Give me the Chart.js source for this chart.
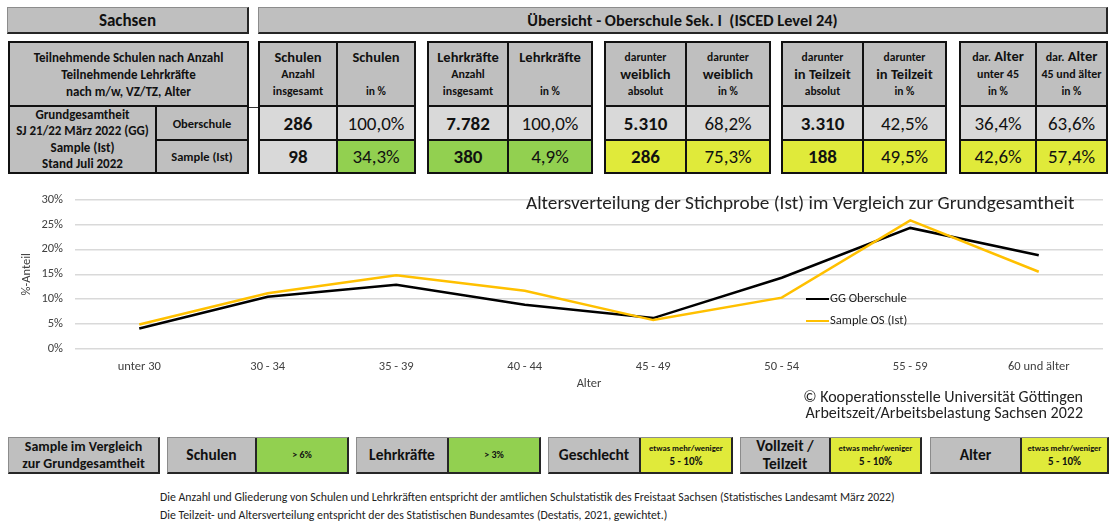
<!DOCTYPE html>
<html lang="de">
<head>
<meta charset="utf-8">
<title>Sachsen - Oberschule Sek. I</title>
<script src="https://cdn.jsdelivr.net/npm/chart.js@4.4.0/dist/chart.umd.min.js"></script>
<style>
  body { margin:0; width:1112px; height:523px; position:relative; overflow:hidden; background:#fff;
         font-family: Carlito, Lato, "Open Sans", sans-serif; color:#111; }
  .abs { position:absolute; box-sizing:border-box; }
  .flat { position:absolute; box-sizing:border-box; background:#bfbfbf; font-weight:bold; text-align:center;
          border-top:1px solid #8c8c8c; border-left:1px solid #8c8c8c;
          border-right:2px solid #262626; border-bottom:2px solid #262626;
          display:flex; align-items:center; justify-content:center; }
  .blk { position:absolute; top:41px; height:133px; box-sizing:border-box; border:2px solid #111;
         display:grid; grid-template-rows:64px 34px 31px; }
  .blk > div { box-sizing:border-box; display:flex; flex-direction:column; align-items:center;
               justify-content:center; text-align:center; overflow:hidden; white-space:nowrap; }
  .h { background:#bfbfbf; font-weight:bold; line-height:17px; }
  .l { background:#d9d9d9; font-size:19px; }
  .gr { background:#92d050; font-size:19px; }
  .ye { background:#e0ea3a; font-size:19px; }
  .b { font-weight:bold; }
  .br { border-right:2px solid #111; }
  .bb { border-bottom:2px solid #111; }
  .s10 { font-size:11.5px; }
  .s11 { font-size:12px; }
  .s12 { font-size:14.5px; }
  .pair { position:absolute; top:437px; height:37px; display:flex; box-sizing:border-box;
          border-top:1px solid #8c8c8c; border-left:1px solid #8c8c8c;
          border-right:2px solid #262626; border-bottom:2px solid #262626; }
  .pl { background:#bfbfbf; border-right:2px solid #262626; font-weight:bold; font-size:15.5px;
        line-height:18px; display:flex; align-items:center; justify-content:center; text-align:center; box-sizing:border-box; }
  .pv { flex:1; display:flex; flex-direction:column; align-items:center; justify-content:center;
        font-weight:bold; font-size:10px; line-height:14px; white-space:nowrap; }
  .note { position:absolute; left:160px; font-size:11.8px; color:#222; white-space:nowrap; line-height:14px; }
  #chartBox { position:absolute; left:0; top:180px; width:1112px; height:220px; }
  .leg { position:absolute; left:806px; font-size:12.6px; color:#222; white-space:nowrap; line-height:14px; }
  .leg span { display:inline-block; width:23px; height:2.5px; vertical-align:middle; margin-right:1px; }
</style>
</head>
<body>

<div class="flat" style="left:7px;top:7px;width:242px;height:27px;font-size:17px">Sachsen</div>
<div class="flat" style="left:258px;top:7px;width:850px;height:27px;font-size:16.4px">Übersicht - Oberschule Sek. I&nbsp; (ISCED Level 24)</div>

<!-- linker Block -->
<div class="blk" style="left:8px;width:241px;grid-template-columns:147px 90px">
  <div class="h bb" style="grid-column:1 / 3;font-size:13px">Teilnehmende Schulen nach Anzahl<br>Teilnehmende Lehrkräfte<br>nach m/w, VZ/TZ, Alter</div>
  <div class="h br" style="grid-row:2 / 4;font-size:13px;line-height:16.5px">Grundgesamtheit<br>SJ 21/22 März 2022 (GG)<br>Sample (Ist)<br>Stand Juli 2022</div>
  <div class="h bb" style="font-size:12.5px">Oberschule</div>
  <div class="h" style="font-size:12.5px">Sample (Ist)</div>
</div>
<div class="abs" style="left:249px;top:107px;width:9px;height:1px;background:#333"></div>

<div class="blk" style="left:258px;width:158px;grid-template-columns:78px 76px">
  <div class="h br bb"><span class="s12">Schulen</span><span class="s11">Anzahl</span><span class="s11">insgesamt</span></div>
  <div class="h bb"><span class="s12">Schulen</span><span class="s11">&nbsp;</span><span class="s10">in %</span></div>
  <div class="l b br bb">286</div><div class="l bb">100,0%</div>
  <div class="l b br">98</div><div class="gr">34,3%</div>
</div>

<div class="blk" style="left:427px;width:166px;grid-template-columns:80px 82px">
  <div class="h br bb"><span class="s12">Lehrkräfte</span><span class="s11">Anzahl</span><span class="s11">insgesamt</span></div>
  <div class="h bb"><span class="s12">Lehrkräfte</span><span class="s11">&nbsp;</span><span class="s10">in %</span></div>
  <div class="l b br bb">7.782</div><div class="l bb">100,0%</div>
  <div class="gr b br">380</div><div class="gr">4,9%</div>
</div>

<div class="blk" style="left:604px;width:167px;grid-template-columns:81px 82px">
  <div class="h br bb"><span class="s10">darunter</span><span class="s12">weiblich</span><span class="s10">absolut</span></div>
  <div class="h bb"><span class="s10">darunter</span><span class="s12">weiblich</span><span class="s10">in %</span></div>
  <div class="l b br bb">5.310</div><div class="l bb">68,2%</div>
  <div class="ye b br">286</div><div class="ye">75,3%</div>
</div>

<div class="blk" style="left:781px;width:166px;grid-template-columns:81px 81px">
  <div class="h br bb"><span class="s10">darunter</span><span class="s12">in Teilzeit</span><span class="s10">absolut</span></div>
  <div class="h bb"><span class="s10">darunter</span><span class="s12">in Teilzeit</span><span class="s10">in %</span></div>
  <div class="l b br bb">3.310</div><div class="l bb">42,5%</div>
  <div class="ye b br">188</div><div class="ye">49,5%</div>
</div>

<div class="blk" style="left:959px;width:149px;grid-template-columns:76px 69px">
  <div class="h br bb"><span class="s12"><span class="s11">dar.</span> Alter</span><span class="s11">unter 45</span><span class="s10">in %</span></div>
  <div class="h bb"><span class="s12"><span class="s11">dar.</span> Alter</span><span class="s11">45 und älter</span><span class="s10">in %</span></div>
  <div class="l br bb">36,4%</div><div class="l bb">63,6%</div>
  <div class="ye br">42,6%</div><div class="ye">57,4%</div>
</div>

<!-- Diagramm -->
<div id="chartBox"><canvas id="ageChart" width="1112" height="220"></canvas></div>
<div class="abs" style="left:526px;top:191px;font-size:19.3px;line-height:23px;color:#222;white-space:nowrap">Altersverteilung der Stichprobe (Ist) im Vergleich zur Grundgesamtheit</div>
<div class="leg" style="top:291px"><span style="background:#000"></span>GG Oberschule</div>
<div class="leg" style="top:313px"><span style="background:#ffc000"></span>Sample OS (Ist)</div>
<div class="abs" style="right:29px;top:389px;font-size:16px;color:#222;text-align:right;line-height:15.5px;white-space:nowrap">© Kooperationsstelle Universität Göttingen<br>Arbeitszeit/Arbeitsbelastung Sachsen 2022</div>

<!-- Vergleichszeile -->
<div class="flat" style="left:8px;top:437px;width:152px;height:37px;font-size:14px;line-height:17px">Sample im Vergleich<br>zur Grundgesamtheit</div>
<div class="pair" style="left:167px;width:182px"><div class="pl" style="width:89px">Schulen</div><div class="pv" style="background:#92d050">&gt; 6%</div></div>
<div class="pair" style="left:356px;width:185px"><div class="pl" style="width:92px">Lehrkräfte</div><div class="pv" style="background:#92d050">&gt; 3%</div></div>
<div class="pair" style="left:548px;width:185px"><div class="pl" style="width:92px">Geschlecht</div><div class="pv" style="background:#e0ea3a"><span style="font-size:8.5px">etwas mehr/weniger</span><span style="font-size:11px">5 - 10%</span></div></div>
<div class="pair" style="left:740px;width:182px"><div class="pl" style="width:90px">Vollzeit /<br>Teilzeit</div><div class="pv" style="background:#e0ea3a"><span style="font-size:8.5px">etwas mehr/weniger</span><span style="font-size:11px">5 - 10%</span></div></div>
<div class="pair" style="left:930px;width:179px"><div class="pl" style="width:91px">Alter</div><div class="pv" style="background:#e0ea3a"><span style="font-size:8.5px">etwas mehr/weniger</span><span style="font-size:11px">5 - 10%</span></div></div>

<div class="note" style="top:490px">Die Anzahl und Gliederung von Schulen und Lehrkräften entspricht der amtlichen Schulstatistik des Freistaat Sachsen (Statistisches Landesamt März 2022)</div>
<div class="note" style="top:508px">Die Teilzeit- und Altersverteilung entspricht der des Statistischen Bundesamtes (Destatis, 2021, gewichtet.)</div>

<script>
// Altersgruppen und Anteile in %
var ageGroups = ['unter 30', '30 - 34', '35 - 39', '40 - 44', '45 - 49', '50 - 54', '55 - 59', '60 und älter'];
var ggOberschule = [4.1, 10.5, 12.9, 8.9, 6.2, 14.3, 24.3, 18.8];
var sampleOS = [4.9, 11.2, 14.8, 11.7, 5.8, 10.3, 25.8, 15.5];
var yTickValues = [0, 5, 10, 15, 20, 25, 30];

Chart.defaults.font.family = 'Carlito, Lato, "Open Sans", sans-serif';
Chart.defaults.color = '#404040';

var ctx = document.getElementById('ageChart');
var ageChart = new Chart(ctx, {
    type: 'line',
    data: {
        labels: ageGroups,
        datasets: [{
            label: 'GG Oberschule',
            data: ggOberschule,
            borderColor: '#000000',
            borderWidth: 2.5,
            pointRadius: 0,
            tension: 0,
            order: 1
        }, {
            label: 'Sample OS (Ist)',
            data: sampleOS,
            borderColor: '#ffc000',
            borderWidth: 2.5,
            pointRadius: 0,
            tension: 0,
            order: 0
        }]
    },
    options: {
        responsive: false,
        animation: false,
        layout: { padding: { top: 12, right: 9, left: 0, bottom: 0 } },
        plugins: { legend: { display: false }, tooltip: { enabled: false } },
        scales: {
            x: {
                offset: true,
                grid: { display: false, drawTicks: false },
                border: { display: false },
                ticks: { padding: 10, font: { size: 12.5 } },
                title: { display: true, text: 'Alter', font: { size: 12.5 }, padding: { top: 0, bottom: 8.5 } },
                afterFit: function (scale) { scale.height = 51; }
            },
            y: {
                min: 0,
                max: 30,
                afterBuildTicks: function (scale) {
                    scale.ticks = yTickValues.map(function (v) { return { value: v }; });
                },
                ticks: { padding: 12, font: { size: 12.5 }, callback: function (v) { return v + '%'; } },
                grid: { color: '#d9d9d9', lineWidth: 1.5, drawTicks: false },
                border: { display: false },
                title: { display: true, text: '%-Anteil', font: { size: 12.5 }, padding: { top: 19.5, bottom: 0 } },
                afterFit: function (scale) { scale.width = 75; }
            }
        }
    }
});
</script>
</body>
</html>
